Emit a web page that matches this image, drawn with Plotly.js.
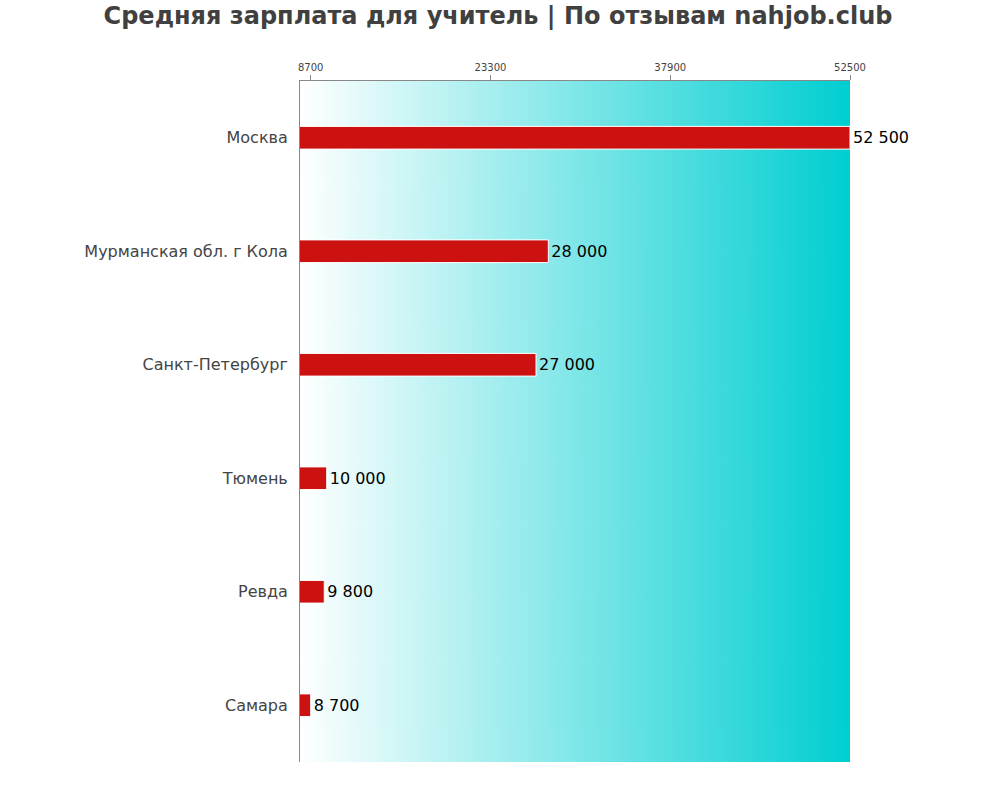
<!DOCTYPE html>
<html>
<head>
<meta charset="utf-8">
<script src="https://cdn.plot.ly/plotly-3.0.1.min.js"></script>
<style>html,body{margin:0;padding:0;background:#fff;}#chart{width:1000px;height:800px;}</style>
</head>
<body>
<div id="chart"></div>
<script>
const cities = ["Москва", "Мурманская обл. г Кола", "Санкт-Петербург", "Тюмень", "Ревда", "Самара"];
const salaries = [52500, 28000, 27000, 10000, 9800, 8700];
const tickValues = [8700, 23300, 37900, 52500];
const tickLabels = ["8700", "23300", "37900", "52500"];

function gradientURL() {
  const c = document.createElement('canvas');
  c.width = 550; c.height = 10;
  const ctx = c.getContext('2d');
  const g = ctx.createLinearGradient(0, 0, 550, 0);
  g.addColorStop(0, '#ffffff');
  g.addColorStop(1, '#00CED1');
  ctx.fillStyle = g;
  ctx.fillRect(0, 0, 550, 10);
  return c.toDataURL('image/png');
}

const minV = Math.min(...salaries), maxV = Math.max(...salaries);

const trace = {
  type: 'bar',
  orientation: 'h',
  x: salaries,
  y: cities,
  width: 0.2,
  marker: {color: '#CC1111', line: {color: '#ffffff', width: 1}},
  texttemplate: '%{x:,}',
  textposition: 'outside',
  cliponaxis: false,
  textfont: {family: 'DejaVu Sans', size: 16, color: '#000000'},
  hoverinfo: 'none'
};

const layout = {
  width: 1000, height: 800,
  separators: '. ',
  margin: {l: 300, r: 150, t: 81, b: 38},
  paper_bgcolor: '#ffffff',
  plot_bgcolor: '#ffffff',
  font: {family: 'DejaVu Sans', color: '#444444'},
  title: {
    text: '<b>Средняя зарплата для учитель | По отзывам nahjob.club</b>',
    font: {family: 'DejaVu Sans', size: 24, color: '#404040'},
    x: 0.498, xanchor: 'center', y: 0.981, yanchor: 'middle'
  },
  xaxis: {
    side: 'top',
    range: [minV * 0.9, maxV],
    tickvals: tickValues,
    ticktext: tickLabels,
    ticks: 'outside', ticklen: 5, tickcolor: '#888888',
    tickfont: {size: 10, color: '#444444'},
    showgrid: false, zeroline: false,
    showline: true, linecolor: '#888888', linewidth: 1,
    fixedrange: true
  },
  yaxis: {
    autorange: 'reversed',
    showgrid: false, zeroline: false,
    showline: true, linecolor: '#888888', linewidth: 1,
    ticks: '',
    ticklabelstandoff: 8,
    tickfont: {size: 16, color: '#444444'},
    fixedrange: true
  },
  images: [{
    source: gradientURL(),
    xref: 'paper', yref: 'paper',
    x: 0, y: 1, sizex: 1, sizey: 1,
    xanchor: 'left', yanchor: 'top',
    sizing: 'stretch', layer: 'below'
  }],
  showlegend: false
};

Plotly.newPlot('chart', [trace], layout, {displayModeBar: false, staticPlot: true});
</script>
</body>
</html>
